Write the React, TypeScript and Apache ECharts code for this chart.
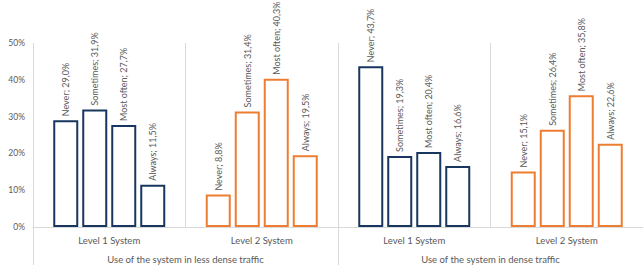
import React, { useEffect, useRef } from "react";
import * as echarts from "echarts";

const groupLabels = ["Level 1 System", "Level 2 System", "Level 1 System", "Level 2 System"];
const trafficLabels = ["Use of the system in less dense traffic", "Use of the system in dense traffic"];
const answerNames = ["Never", "Sometimes", "Most often", "Always"];
const never = [29.0, 8.8, 43.7, 15.1];
const sometimes = [31.9, 31.4, 19.3, 26.4];
const mostOften = [27.7, 40.3, 20.4, 35.8];
const always = [11.5, 19.5, 16.6, 22.6];
const yTicks = [0, 10, 20, 30, 40, 50];

const NAVY = "#17375e";
const ORANGE = "#ed7d31";
const groupColors = [NAVY, ORANGE, NAVY, ORANGE];
const FONT = "Lato";
const GREY = "#595959";
const LINE = "#d9d9d9";

export default function App() {
  const ref = useRef<HTMLDivElement>(null);
  useEffect(() => {
    if (!ref.current) return;
    const chart = echarts.init(ref.current, null, { renderer: "svg" });
    const seriesValues = [never, sometimes, mostOften, always];
    chart.setOption({
      animation: false,
      textStyle: { fontFamily: FONT },
      grid: { left: 33, top: 43, width: 620, height: 184, containLabel: false },
      xAxis: [
        {
          type: "category",
          data: groupLabels,
          position: "bottom",
          axisLine: { show: true, lineStyle: { color: LINE, width: 1 } },
          axisTick: { show: false },
          splitLine: { show: true, lineStyle: { color: LINE, width: 1 } },
          axisLabel: { color: GREY, fontSize: 9.5, fontFamily: FONT, margin: 8 },
        },
        {
          type: "category",
          data: trafficLabels,
          position: "bottom",
          axisLine: { show: false },
          axisTick: { show: true, length: 40, lineStyle: { color: LINE, width: 1 } },
          splitLine: { show: false },
          axisLabel: { color: GREY, fontSize: 9.5, fontFamily: FONT, margin: 27 },
        },
      ],
      yAxis: {
        type: "value",
        min: 0,
        max: 50,
        interval: 10,
        axisLine: { show: false },
        axisTick: { show: false },
        splitLine: { show: false },
        axisLabel: {
          color: GREY,
          fontSize: 8.5,
          fontFamily: FONT,
          margin: 8,
          formatter: (v: number) => (yTicks.includes(v) ? v + "%" : ""),
        },
      },
      series: answerNames.map((name, si) => ({
        type: "bar",
        name,
        xAxisIndex: 0,
        barWidth: 25,
        barGap: "16%",
        data: seriesValues[si].map((v, gi) => ({
          value: v,
          itemStyle: { color: "#ffffff", borderColor: groupColors[gi], borderWidth: 2 },
        })),
        label: {
          show: true,
          position: "top",
          rotate: 90,
          align: "left",
          verticalAlign: "middle",
          distance: 4,
          color: GREY,
          fontSize: 9,
          fontFamily: FONT,
          formatter: (p: any) => name + "; " + Number(p.value).toFixed(1).replace(".", ",") + "%",
        },
      })),
    });
    return () => chart.dispose();
  }, []);
  return (
    <div
      ref={ref}
      style={{ position: "fixed", left: 0, top: 0, width: 643, height: 265, background: "#fff" }}
    />
  );
}
